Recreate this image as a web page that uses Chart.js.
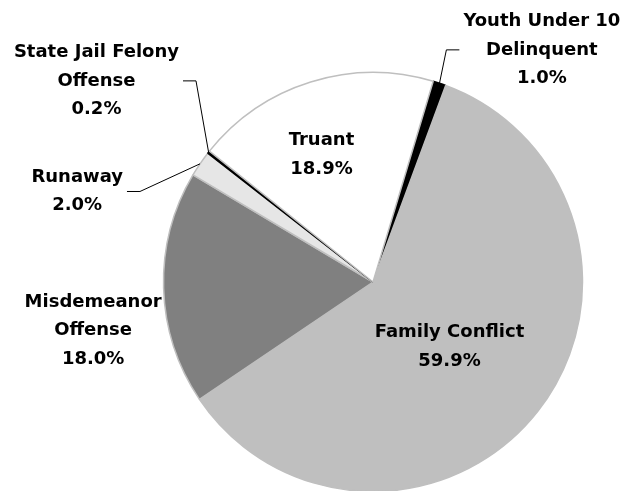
<!DOCTYPE html>
<html>
<head>
<meta charset="utf-8">
<script src="https://cdn.jsdelivr.net/npm/chart.js@4/dist/chart.umd.min.js"></script>
<style>
  html, body { margin: 0; padding: 0; background: #ffffff; }
  #wrap { width: 630px; height: 491px; }
</style>
</head>
<body>
<div id="wrap"><canvas id="chart" width="630" height="491"></canvas></div>
<script>
// Referral reasons, clockwise from the first slice
const categories = [
  ['Youth Under 10', 'Delinquent'],
  ['Family Conflict'],
  ['Misdemeanor', 'Offense'],
  ['Runaway'],
  ['State Jail Felony', 'Offense'],
  ['Truant']
];
const shares = [1.0, 59.9, 18.0, 2.0, 0.2, 18.9];
const sliceColors = ['#000000', '#bfbfbf', '#808080', '#e6e6e6', '#000000', '#ffffff'];
const sliceBorders = ['#000000', '#bfbfbf', '#bfbfbf', '#bfbfbf', '#000000', '#bfbfbf'];

// Label block centres, as multiples of the radius from the pie centre,
// and which side a leader line leaves the block from (null = none)
const labelPlacement = [
  { dx: 0.806, dy: -1.108, leader: 'left' },
  { dx: 0.365, dy: 0.310, leader: null },
  { dx: -1.336, dy: 0.232, leader: null },
  { dx: -1.412, dy: -0.432, leader: 'right' },
  { dx: -1.320, dy: -0.960, leader: 'right' },
  { dx: -0.246, dy: -0.608, leader: null }
];

const FONT = 'bold 18px "DejaVu Sans"';
const LINE_H = 28.5;

const sliceLabels = {
  id: 'sliceLabels',
  afterDatasetsDraw(chart) {
    const ctx = chart.ctx;
    const meta = chart.getDatasetMeta(0);
    ctx.save();
    ctx.font = FONT;
    ctx.fillStyle = '#000000';
    ctx.textAlign = 'center';
    ctx.textBaseline = 'middle';
    meta.data.forEach((arc, i) => {
      const p = arc.getProps(['x', 'y', 'startAngle', 'endAngle', 'outerRadius'], true);
      const R = p.outerRadius;
      const lines = categories[i].concat([shares[i].toFixed(1) + '%']);
      const cx = p.x + labelPlacement[i].dx * R;
      const cy = p.y + labelPlacement[i].dy * R;
      const top = cy - (lines.length - 1) * LINE_H / 2;
      let maxW = 0;
      lines.forEach((t, k) => {
        ctx.fillText(t, cx, top + k * LINE_H);
        maxW = Math.max(maxW, ctx.measureText(t).width);
      });
      const side = labelPlacement[i].leader;
      if (side) {
        const mid = (p.startAngle + p.endAngle) / 2;
        const ax = p.x + Math.cos(mid) * R;
        const ay = p.y + Math.sin(mid) * R;
        const dir = side === 'left' ? -1 : 1;
        const x0 = cx + dir * (maxW / 2 + 4);
        const x1 = x0 + dir * 13;
        ctx.beginPath();
        ctx.strokeStyle = '#000000';
        ctx.lineWidth = 1;
        ctx.moveTo(x0, cy);
        ctx.lineTo(x1, cy);
        ctx.lineTo(ax, ay);
        ctx.stroke();
      }
    });
    ctx.restore();
  }
};

new Chart(document.getElementById('chart'), {
  type: 'pie',
  data: {
    labels: categories,
    datasets: [{
      data: shares,
      backgroundColor: sliceColors,
      borderColor: sliceBorders,
      borderWidth: 1.5,
      radius: 209.5
    }]
  },
  options: {
    responsive: false,
    animation: false,
    devicePixelRatio: 1,
    rotation: 16.7,
    layout: { padding: { left: 200, right: 84, top: 100, bottom: 27 } },
    events: [],
    plugins: {
      legend: { display: false },
      tooltip: { enabled: false }
    }
  },
  plugins: [sliceLabels]
});
</script>
</body>
</html>
